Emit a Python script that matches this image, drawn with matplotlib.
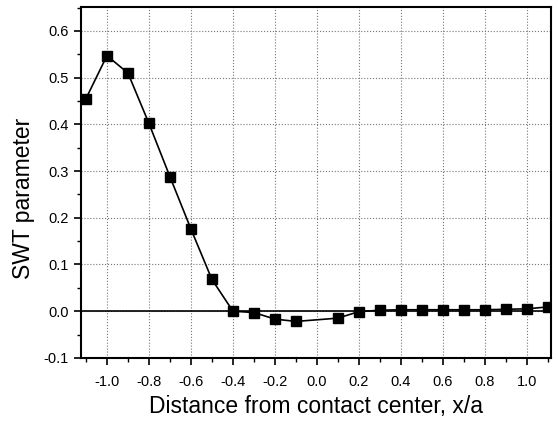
import numpy as np
import matplotlib.pyplot as plt
from matplotlib.ticker import MultipleLocator, FormatStrFormatter

# SWT parameter along the contact (x/a from -1.1 to 1.1, no point at 0.0)
x_pos = [-1.1, -1.0, -0.9, -0.8, -0.7, -0.6, -0.5, -0.4, -0.3, -0.2, -0.1,
         0.1, 0.2, 0.3, 0.4, 0.5, 0.6, 0.7, 0.8, 0.9, 1.0, 1.1]
swt = [0.455, 0.547, 0.510, 0.402, 0.288, 0.176, 0.068, 0.000, -0.003, -0.017, -0.022,
       -0.015, -0.001, 0.002, 0.003, 0.003, 0.003, 0.003, 0.003, 0.004, 0.005, 0.009]

plt.rcParams['font.family'] = ['Liberation Sans', 'DejaVu Sans']
plt.rcParams['axes.unicode_minus'] = False

fig = plt.figure(figsize=(5.58, 4.21), dpi=100)
ax = fig.add_axes([0.145, 0.150, 0.842, 0.833])

ax.axhline(0.0, color='black', lw=1.2, zorder=2)
ax.plot(x_pos, swt, color='black', lw=1.2, marker='s', markersize=6.5, zorder=3)

ax.set_xlim(-1.124, 1.114)
ax.set_ylim(-0.1, 0.651)
ax.xaxis.set_major_locator(MultipleLocator(0.2))
ax.xaxis.set_minor_locator(MultipleLocator(0.1))
ax.yaxis.set_major_locator(MultipleLocator(0.1))
ax.yaxis.set_minor_locator(MultipleLocator(0.05))
ax.xaxis.set_major_formatter(FormatStrFormatter('%.1f'))
ax.yaxis.set_major_formatter(FormatStrFormatter('%.1f'))

ax.grid(True, which='major', linestyle=':', color='#777777', lw=0.8)
ax.tick_params(which='major', direction='out', length=5, width=1.2, labelsize=10.5)
ax.tick_params(axis='x', which='major', pad=7)
ax.tick_params(which='minor', direction='out', length=3, width=1.0)
for s in ax.spines.values():
    s.set_linewidth(1.5)

ax.set_xlabel('Distance from contact center, x/a', fontsize=16.5, va='center')
ax.set_ylabel('SWT parameter', fontsize=16.5, va='center')
ax.xaxis.set_label_coords(0.5, -0.14)
ax.yaxis.set_label_coords(-0.123, 0.456)

fig.savefig('out.png', dpi=100)
